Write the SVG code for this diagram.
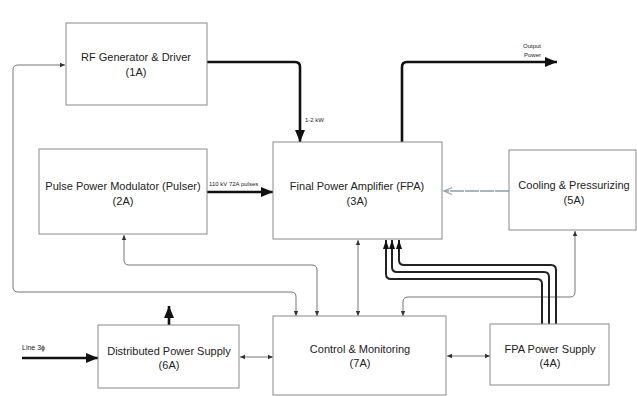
<svg xmlns="http://www.w3.org/2000/svg" width="637" height="396" viewBox="0 0 637 396">
<style>
.box{fill:#fff;stroke:#8a8a8a;stroke-width:1}
.t{font-family:"Liberation Sans",Arial,sans-serif;font-size:11px;fill:#222;text-anchor:middle}
.s{font-family:"Liberation Sans",Arial,sans-serif;font-size:6px;fill:#222}
.thin{fill:none;stroke:#777;stroke-width:1}
.thick{fill:none;stroke:#111;stroke-width:2.6}
.med{fill:none;stroke:#222;stroke-width:2}
</style>
<defs>
<marker id="aS" markerUnits="userSpaceOnUse" markerWidth="6" markerHeight="6" refX="5" refY="3" orient="auto-start-reverse"><path d="M0,0.8 L5,3 L0,5.2 z" fill="#333"/></marker>
<marker id="aL" markerUnits="userSpaceOnUse" markerWidth="14" markerHeight="12" refX="12" refY="6" orient="auto-start-reverse"><path d="M0,1 L12,6 L0,11 z" fill="#111"/></marker>
<marker id="aM" markerUnits="userSpaceOnUse" markerWidth="10" markerHeight="8" refX="9" refY="4" orient="auto"><path d="M0,1 L9,4 L0,7 z" fill="#111"/></marker>
<marker id="aO" markerUnits="userSpaceOnUse" markerWidth="10" markerHeight="10" refX="8" refY="5" orient="auto"><path d="M0,1.5 L8,5 L0,8.5" fill="none" stroke="#98a6b4" stroke-width="1.3"/></marker>
</defs>
<rect width="637" height="396" fill="#fff"/>
<g id="connectors">
<path class="thick" d="M207,62 L295,62 Q300,62 300,67 L300,142" marker-end="url(#aL)"/>
<path class="thick" d="M402,142 L402,67 Q402,62 407,62 L557,62" marker-end="url(#aL)"/>
<path class="thick" d="M207,192 L273,192" marker-end="url(#aL)"/>
<path d="M509,191 L444,191" fill="none" stroke="#a8b4c0" stroke-width="2" stroke-dasharray="14 1" marker-end="url(#aO)"/>
<path class="thin" d="M65,65 L18,65 Q13,65 13,70 L13,287 Q13,292 18,292 L291,292 Q296,292 296,297 L296,316" marker-start="url(#aS)" marker-end="url(#aS)"/>
<path class="thin" d="M124,235 L124,260 Q124,265 129,265 L312,265 Q317,265 317,270 L317,316" marker-start="url(#aS)" marker-end="url(#aS)"/>
<path class="thin" d="M575,231 L575,292 Q575,297 570,297 L408,297 Q403,297 403,302 L403,316" marker-start="url(#aS)" marker-end="url(#aS)"/>
<path class="thin" d="M358,240 L358,316" marker-start="url(#aS)" marker-end="url(#aS)"/>
<path class="thin" d="M240,357 L273,357" marker-start="url(#aS)" marker-end="url(#aS)"/>
<path class="thin" d="M447,356 L490,356" marker-start="url(#aS)" marker-end="url(#aS)"/>
<path class="med" d="M556,324 L556,270 Q556,265 551,265 L404,265 Q399,265 399,260 L399,240" marker-end="url(#aM)"/>
<path class="med" d="M549,324 L549,277 Q549,272 544,272 L397,272 Q392,272 392,267 L392,240" marker-end="url(#aM)"/>
<path class="med" d="M542,324 L542,284 Q542,279 537,279 L391,279 Q386,279 386,274 L386,240" marker-end="url(#aM)"/>
<path class="thick" d="M169,325 L169,306" marker-end="url(#aL)"/>
<path class="thick" d="M22,358 L98,358" marker-end="url(#aL)"/>
<text class="s" x="305" y="122">1-2 kW</text>
<text class="s" x="541" y="48" text-anchor="end">Output</text>
<text class="s" x="541" y="57" text-anchor="end">Power</text>
<text class="s" x="209" y="186">110 kV  72A  pulses</text>
<text class="s" x="22" y="350" style="font-size:7px">Line 3ϕ</text>
</g>
<g id="n1A"><rect class="box" x="66" y="23" width="141" height="82"/><text class="t" x="136" y="61">RF Generator &amp; Driver</text><text class="t" x="136" y="76">(1A)</text></g>
<g id="n2A"><rect class="box" x="39" y="149" width="168" height="85"/><text class="t" x="123" y="190">Pulse Power Modulator (Pulser)</text><text class="t" x="123" y="205">(2A)</text></g>
<g id="n3A"><rect class="box" x="273" y="142" width="169" height="97"/><text class="t" x="357" y="190">Final Power Amplifier (FPA)</text><text class="t" x="357" y="205">(3A)</text></g>
<g id="n5A"><rect class="box" x="509" y="150" width="127" height="80"/><text class="t" x="574" y="189">Cooling &amp; Pressurizing</text><text class="t" x="574" y="204">(5A)</text></g>
<g id="n6A"><rect class="box" x="98" y="325" width="141" height="63"/><text class="t" x="169" y="355">Distributed Power Supply</text><text class="t" x="169" y="369">(6A)</text></g>
<g id="n7A"><rect class="box" x="273" y="316" width="173" height="79"/><text class="t" x="360" y="353">Control &amp; Monitoring</text><text class="t" x="360" y="367">(7A)</text></g>
<g id="n4A"><rect class="box" x="490" y="324" width="119" height="61"/><text class="t" x="550" y="353">FPA Power Supply</text><text class="t" x="550" y="367">(4A)</text></g>
</svg>
